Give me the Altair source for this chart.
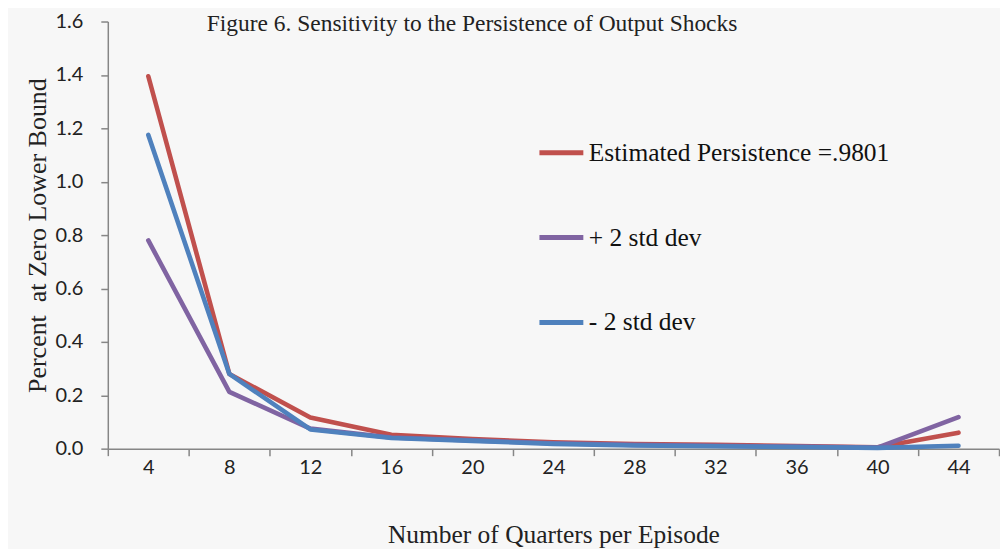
import altair as alt
import pandas as pd

quarters = [4, 8, 12, 16, 20, 24, 28, 32, 36, 40, 44]
estimated = [1.395, 0.28, 0.117, 0.052, 0.036, 0.024, 0.017, 0.014, 0.010, 0.005, 0.060]
plus2 = [0.78, 0.213, 0.075, 0.042, 0.031, 0.020, 0.014, 0.011, 0.008, 0.004, 0.118]
minus2 = [1.175, 0.28, 0.072, 0.040, 0.029, 0.018, 0.012, 0.009, 0.006, 0.003, 0.011]
series_names = ["Estimated Persistence =.9801", "+ 2 std dev", "- 2 std dev"]
series_colors = ["#c0504d", "#8064a2", "#4f81bd"]
y_ticks = [0.0, 0.2, 0.4, 0.6, 0.8, 1.0, 1.2, 1.4, 1.6]
title_text = "Figure 6. Sensitivity to the Persistence of Output Shocks"

rows = []
for name, vals in zip(series_names, [estimated, plus2, minus2]):
    for q, v in zip(quarters, vals):
        rows.append({"Quarters": q, "Value": v, "Series": name,
                     "order": series_names.index(name)})
df = pd.DataFrame(rows)

SERIF = "Liberation Serif"
SANS = "Lato"

lines = alt.Chart(df).mark_line(strokeWidth=4.6, strokeCap="round", strokeJoin="round").encode(
    x=alt.X("Quarters:O",
            scale=alt.Scale(type="band", paddingInner=0, paddingOuter=0),
            bandPosition=0.5,
            axis=alt.Axis(title="Number of Quarters per Episode", labelAngle=0,
                          tickBand="extent", titleFont=SERIF, titleFontSize=25.5,
                          titleFontWeight="normal", titlePadding=45,
                          labelFont=SANS, labelFontSize=20, labelPadding=2,
                          labelColor="#222222", titleColor="#222222",
                          domainColor="#868686", tickColor="#868686",
                          tickSize=7, domainWidth=1.5, tickWidth=1.5)),
    y=alt.Y("Value:Q",
            scale=alt.Scale(domain=[0, 1.6], nice=False),
            axis=alt.Axis(title="Percent\u00a0 at Zero Lower Bound", values=y_ticks,
                          format=".1f", titleFont=SERIF, titleFontSize=26,
                          titleFontWeight="normal", titlePadding=5,
                          labelFont=SANS, labelFontSize=20, labelPadding=18,
                          labelColor="#222222", titleColor="#222222",
                          domainColor="#868686", tickColor="#868686",
                          tickSize=7, grid=False, domainWidth=1.5, tickWidth=1.5)),
    color=alt.Color("Series:N",
                    scale=alt.Scale(domain=series_names, range=series_colors),
                    legend=alt.Legend(title=None, orient="none", legendX=430, legendY=107,
                                      symbolType="stroke", symbolSize=1936,
                                      symbolStrokeWidth=5, labelFont=SERIF,
                                      labelFontSize=25.5, labelColor="#111111",
                                      labelOffset=3, rowPadding=47,
                                      labelLimit=450)),
    order=alt.Order("order:Q"),
)

title_df = pd.DataFrame({"t": [title_text]})
title = alt.Chart(title_df).mark_text(font=SERIF, fontSize=23.5, color="#222222",
                                      align="center", baseline="middle").encode(
    text="t:N", x=alt.value(365), y=alt.value(2))

chart = alt.layer(lines, title).properties(
    width=893, height=428, background="#f7f7f7",
    padding={"left": 16, "top": 3, "right": 0, "bottom": 0}
).configure_view(stroke=None)

chart.save("out.html", embed_options={"renderer": "svg", "actions": False})
